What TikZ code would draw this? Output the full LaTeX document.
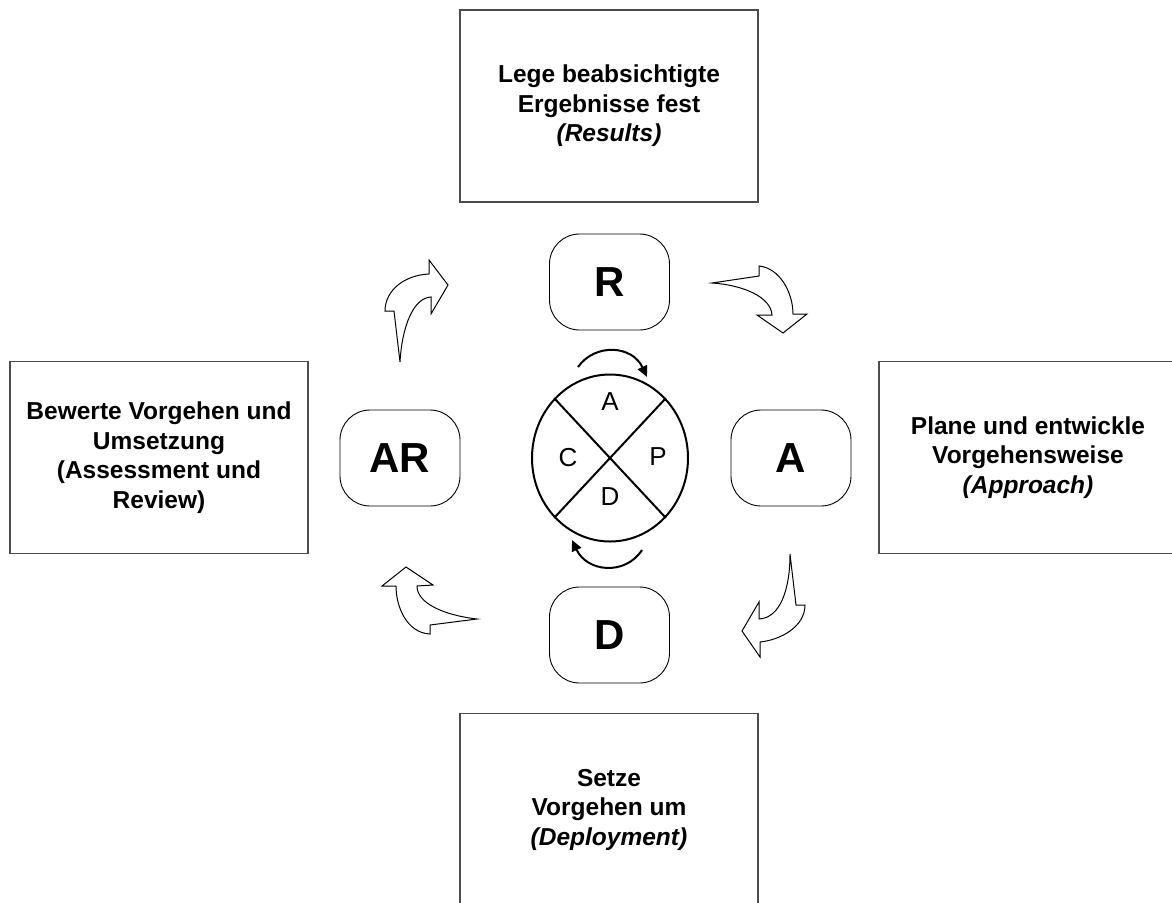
\documentclass[tikz,border=0pt]{standalone}
\usepackage{fontspec}
\setmainfont{Liberation Sans}
\usetikzlibrary{shapes.geometric,arrows.meta,calc}
\begin{document}
\begin{tikzpicture}[x=1pt,y=-1pt,
  bigbox/.style={draw=black!70, line width=1.2pt, minimum width=298pt, minimum height=192pt, inner sep=0pt,
    align=center, font=\fontsize{24.5}{29.5}\selectfont\bfseries},
  letterbox/.style={draw, line width=0.9pt, rounded corners=30pt, minimum width=120pt, minimum height=96pt,
    inner sep=0pt, font=\fontsize{42}{42}\selectfont\bfseries},
  blockarrow/.style={draw, line width=1pt, fill=white, line join=miter},
  cyclearrow/.style={line width=2pt, -{Triangle[length=11pt,width=10pt]}},
  quadlabel/.style={font=\fontsize{26}{26}\selectfont, inner sep=0pt}
]
\useasboundingbox (0,0) rectangle (1172,902);
\clip (0,0) rectangle (1172,902);
\fill[white] (0,0) rectangle (1172,902);

% large text boxes
\node[bigbox] (rbox) at (609,106) {Lege beabsichtigte\\Ergebnisse fest\\\textit{(Results)}};
\node[bigbox] (abox) at (1028,457.5) {Plane und entwickle\\Vorgehensweise\\\textit{(Approach)}};
\node[bigbox] (dbox) at (609,809.5) {Setze\\Vorgehen um\\\textit{(Deployment)}};
\node[bigbox] (arbox) at (159,457.5) {Bewerte Vorgehen und\\Umsetzung\\(Assessment und\\Review)};

% letter boxes
\node[letterbox] (r) at (609.5,282) {R};
\node[letterbox] (a) at (791,458) {A};
\node[letterbox] (d) at (609.5,635) {D};
\node[letterbox] (ar) at (400,458) {AR};

% PDCA circle
\node[ellipse, draw, line width=2pt, minimum width=156pt, minimum height=167pt, inner sep=0pt] (cyc) at (610,458) {};
\draw[line width=2pt] (cyc.47) -- (cyc.227);
\draw[line width=2pt] (cyc.133) -- (cyc.313);
\node[quadlabel] (la) at (610,402) {A};
\node[quadlabel] (lp) at (658,457) {P};
\node[quadlabel] (ld) at (610,497) {D};
\node[quadlabel] (lc) at (568,458) {C};

% small cycle arrows
\coordinate (t1) at (578,367);
\coordinate (t2) at (647,377);
\draw[cyclearrow] (t1) .. controls (595,343) and (632,345) .. (t2);
\coordinate (b1) at (642,550);
\coordinate (b2) at (572,540);
\draw[cyclearrow] (b1) .. controls (625,576) and (587,572) .. (b2);

% curved block arrows
% upper left (AR -> R)
\draw[blockarrow] (429,274) -- (429,260) -- (448,285) -- (431,314) -- (431,297)
  .. controls (413,298) and (402,327) .. (400,362)
  -- (394,311) -- (385,311)
  .. controls (385,290) and (405,275) .. (429,274) -- cycle;
% upper right (R -> A)
\draw[blockarrow] (712,283) -- (759,276) -- (759,266)
  .. controls (780,268) and (793,293) .. (793,314)
  -- (807,314) -- (783,333) -- (757,315) -- (772,315)
  .. controls (771,297) and (743,285) .. (712,283) -- cycle;
% lower right (A -> D)
\draw[blockarrow] (790,554) -- (796,605) -- (805,605)
  .. controls (805,627) and (780,640) .. (760,642)
  -- (760,657) -- (742,631) -- (759,602) -- (759,619)
  .. controls (780,618) and (790,590) .. (790,554) -- cycle;
% lower left (D -> AR)
\draw[blockarrow] (477,619) -- (430,625) -- (430,634)
  .. controls (407,633) and (396,607) .. (396,586)
  -- (382,586) -- (406,567) -- (433,585) -- (417,586)
  .. controls (417,603) and (443,615) .. (477,619) -- cycle;
\end{tikzpicture}
\end{document}
